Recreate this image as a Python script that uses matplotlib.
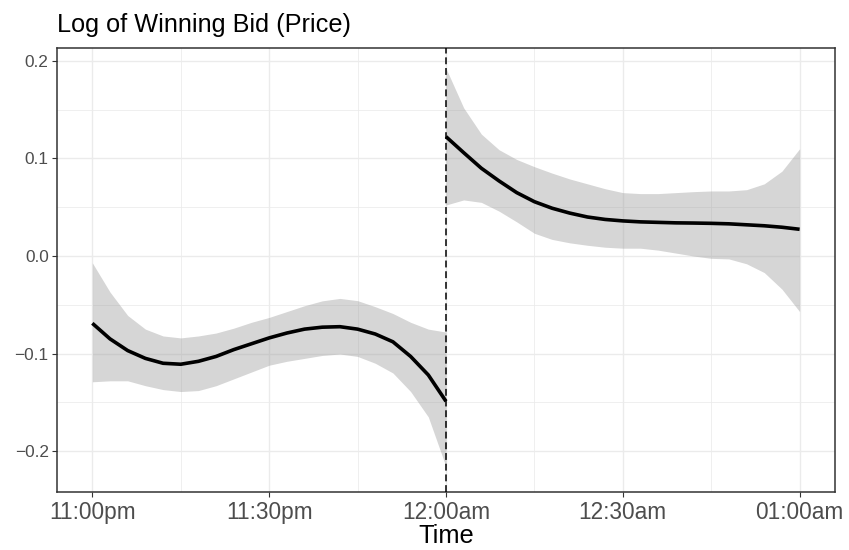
import numpy as np
import matplotlib
matplotlib.use("Agg")
import matplotlib.pyplot as plt
from matplotlib.ticker import FixedLocator

plt.rcParams['font.family'] = ['Liberation Sans', 'DejaVu Sans']

# minutes relative to 12:00am
minutes_before = [-60, -57, -54, -51, -48, -45, -42, -39, -36, -33, -30,
                  -27, -24, -21, -18, -15, -12, -9, -6, -3, 0]
fit_before = [-0.069, -0.085, -0.097, -0.105, -0.110, -0.111, -0.108, -0.103,
              -0.096, -0.090, -0.084, -0.079, -0.075, -0.073, -0.0725, -0.075,
              -0.080, -0.088, -0.103, -0.122, -0.149]
upper_before = [-0.007, -0.037, -0.061, -0.075, -0.082, -0.084, -0.082, -0.079,
                -0.074, -0.068, -0.063, -0.057, -0.051, -0.046, -0.0435, -0.0458,
                -0.052, -0.059, -0.068, -0.075, -0.078]
lower_before = [-0.129, -0.128, -0.128, -0.133, -0.137, -0.139, -0.138, -0.133,
                -0.126, -0.119, -0.112, -0.108, -0.105, -0.102, -0.1005, -0.103,
                -0.110, -0.120, -0.139, -0.165, -0.216]

minutes_after = [0, 3, 6, 9, 12, 15, 18, 21, 24, 27, 30,
                 33, 36, 39, 42, 45, 48, 51, 54, 57, 60]
fit_after = [0.1224, 0.106, 0.090, 0.077, 0.065, 0.0557, 0.049, 0.044, 0.040,
             0.0375, 0.036, 0.035, 0.0345, 0.034, 0.0338, 0.0335, 0.033, 0.032,
             0.031, 0.0295, 0.0274]
upper_after = [0.1925, 0.152, 0.125, 0.109, 0.099, 0.0916, 0.085, 0.079, 0.074,
               0.069, 0.065, 0.064, 0.064, 0.065, 0.066, 0.0667, 0.0667, 0.068,
               0.074, 0.087, 0.110]
lower_after = [0.0523, 0.0575, 0.055, 0.046, 0.035, 0.0233, 0.017, 0.0135, 0.011,
               0.009, 0.008, 0.008, 0.006, 0.003, 0.000, -0.0024, -0.003, -0.008,
               -0.017, -0.034, -0.057]

tick_pos = [-60, -30, 0, 30, 60]
tick_labels = ["11:00pm", "11:30pm", "12:00am", "12:30am", "01:00am"]
cutoff = 0

fig = plt.figure(figsize=(8.49, 5.5), dpi=100)
ax = fig.add_axes([0.0671, 0.1055, 0.9164, 0.8072])

for xs, fit, lo, hi in [(minutes_before, fit_before, lower_before, upper_before),
                        (minutes_after, fit_after, lower_after, upper_after)]:
    ax.fill_between(xs, lo, hi, color='#999999', alpha=0.4, linewidth=0, zorder=2)
    ax.plot(xs, fit, color='black', lw=2.6, solid_capstyle='butt',
            solid_joinstyle='round', zorder=3)

ax.axvline(cutoff, color='black', lw=1.1, linestyle=(0, (4.5, 2.5)), zorder=4)

ax.set_xlim(-66, 66)
ax.set_ylim(-0.242, 0.2133)
ax.xaxis.set_major_locator(FixedLocator(tick_pos))
ax.set_xticklabels(tick_labels)
ax.xaxis.set_minor_locator(FixedLocator([-45, -15, 15, 45]))
ax.yaxis.set_major_locator(FixedLocator([-0.2, -0.1, 0.0, 0.1, 0.2]))
ax.set_yticklabels(['\u22120.2', '\u22120.1', '0.0', '0.1', '0.2'])
ax.yaxis.set_minor_locator(FixedLocator([-0.15, -0.05, 0.05, 0.15]))

ax.set_axisbelow(True)
ax.grid(which='major', color='#EBEBEB', lw=1.0)
ax.grid(which='minor', color='#EBEBEB', lw=0.55)
ax.tick_params(which='minor', length=0)
ax.tick_params(which='major', length=3.5, width=0.8, color='#333333')
ax.tick_params(axis='x', labelsize=16.3, labelcolor='#4D4D4D', pad=3)
ax.tick_params(axis='y', labelsize=12.4, labelcolor='#4D4D4D', pad=2.5)
for s in ax.spines.values():
    s.set_color('#333333')
    s.set_linewidth(1.1)

fig.text(0.0675, 0.9413, "Log of Winning Bid (Price)", fontsize=18.2,
         ha='left', va='baseline')
fig.text(0.5253, 0.0125, "Time", fontsize=18.3, ha='center', va='baseline')

fig.savefig("out.png", dpi=100)
